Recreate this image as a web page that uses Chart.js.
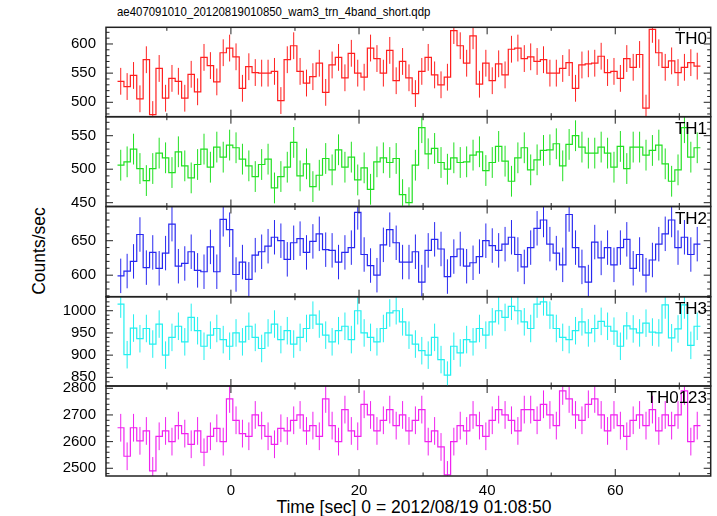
<!DOCTYPE html>
<html><head><meta charset="utf-8">
<script src="https://cdn.jsdelivr.net/npm/chart.js@4.4.1/dist/chart.umd.min.js"></script>
<style>
html,body{margin:0;padding:0;background:#fff;width:717px;height:516px;overflow:hidden;position:relative;font-family:"Liberation Sans",Arial,sans-serif;}
canvas{position:absolute;left:0;}
.t{position:absolute;white-space:nowrap;color:#000;line-height:1;}
</style></head><body>
<div class="t" style="left:117px;top:5px;font-size:13.5px;transform:scaleX(0.845);transform-origin:0 0;">ae407091010_20120819010850_wam3_trn_4band_short.qdp</div>
<div class="t" style="left:40px;top:251px;font-size:17.5px;transform:translate(-50%,-50%) rotate(-90deg);">Counts/sec</div>
<div class="t" style="left:414px;top:508px;font-size:17.5px;transform:translate(-50%,-50%);">Time [sec] 0 = 2012/08/19 01:08:50</div>
<script>
// ---- data ----
const TIME = [-17.2,-16.2,-15.2,-14.2,-13.2,-12.2,-11.2,-10.2,-9.2,-8.2,-7.2,-6.2,-5.2,-4.2,-3.2,-2.2,-1.2,-0.2,0.8,1.8,2.8,3.8,4.8,5.8,6.8,7.8,8.8,9.8,10.8,11.8,12.8,13.8,14.8,15.8,16.8,17.8,18.8,19.8,20.8,21.8,22.8,23.8,24.8,25.8,26.8,27.8,28.8,29.8,30.8,31.8,32.8,33.8,34.8,35.8,36.8,37.8,38.8,39.8,40.8,41.8,42.8,43.8,44.8,45.8,46.8,47.8,48.8,49.8,50.8,51.8,52.8,53.8,54.8,55.8,56.8,57.8,58.8,59.8,60.8,61.8,62.8,63.8,64.8,65.8,66.8,67.8,68.8,69.8,70.8,71.8,72.8];
const BIN_WIDTH = 1;
const TH0 = [536,527,546,506,573,479,558,507,541,536, 507,548,518,577,563,535,585,593,578,524, 561,551,550,550,553,503,573,597,553,533, 544,567,517,564,577,542,584,550,543,593, 575,550,589,537,570,542,515,553,577,547, 530,543,623,597,567,614,531,567,537,566, 547,591,593,575,578,570,573,550,550,558, 568,524,564,566,567,579,551,553,541,575, 560,582,490,625,585,560,571,551,560,568,562];
const TH1 = [506,511,530,501,483,501,524,517,495,526, 505,487,507,530,503,533,518,536,532,515, 505,489,507,515,472,489,503,540,490,508, 474,491,516,499,529,503,518,484,502,470, 511,517,510,516,462,450,506,562,523,531, 510,500,517,510,511,521,526,498,510,534, 512,482,517,532,499,514,528,529,538,505, 537,550,533,524,524,533,524,503,534,501, 533,533,521,528,536,508,482,499,562,518,532];
const TH2 = [599,606,620,659,611,633,610,632,674,613, 617,634,607,605,641,605,681,666,601,619, 594,629,634,642,655,650,623,647,653,633, 649,660,637,636,619,633,640,691,630,614, 600,644,666,647,619,619,634,590,636,652, 638,598,627,638,613,618,627,650,643,636, 645,655,630,612,640,668,680,645,632,615, 688,640,612,590,648,625,640,615,640,652, 610,630,600,622,645,660,680,640,655,630,645];
const TH3 = [1015,901,961,937,960,925,970,900,940,965, 930,985,955,920,945,960,935,920,950,930, 965,940,915,950,970,935,955,925,940,960, 990,970,945,930,955,965,935,1000,950,940, 930,960,995,1000,975,945,925,910,900,940, 890,855,920,905,935,930,960,945,975,1000, 985,1010,1000,975,960,1015,1020,990,960,940, 935,955,975,950,960,976,965,954,920,966, 959,950,972,952,950,1013,939,959,1013,922,965];
const TH0123 = [2652,2545,2652,2603,2640,2490,2620,2640,2600,2660, 2630,2590,2640,2560,2620,2650,2600,2760,2680,2630, 2620,2700,2660,2620,2590,2650,2640,2680,2700,2640, 2660,2620,2760,2660,2600,2720,2640,2620,2740,2700, 2640,2680,2720,2660,2700,2640,2680,2720,2600,2640, 2580,2475,2600,2660,2640,2700,2660,2620,2680,2720, 2700,2680,2640,2720,2720,2680,2740,2700,2660,2790, 2760,2700,2680,2740,2760,2700,2640,2700,2660,2620, 2680,2700,2660,2720,2640,2700,2660,2700,2790,2600,2660];
// typical 1-sigma error in each panel
const ERR_TH0 = 23, ERR_TH1 = 23, ERR_TH2 = 25, ERR_TH3 = 31, ERR_TH0123 = 52;
const PANEL_NAMES = ['TH0','TH1','TH2','TH3','TH0123'];
const X_TICKS = [0, 20, 40, 60];
const Y_TICKS = [[500,550,600],[450,500,550],[600,650],[850,900,950,1000],[2500,2600,2700,2800]];
const X_MAJOR = 20, X_MINOR = 10;

// ---- layout ----
const FRAME_LEFT = 106, FRAME_RIGHT = 710.7, W = 717, MARGIN = 40;
const TOPS = [27.3, 116.7, 206.5, 296.7, 386, 476];
const X_MIN = -19.5, X_MAX = 74.9;
const FONT = '"Liberation Sans", Arial, sans-serif';

const framePlugin = {
  id: 'qdpframe',
  afterDatasetsDraw(chart, args, o) {
    const {ctx, chartArea: a, scales} = chart;
    const xs = scales.x, ys = scales.y;
    ctx.save();
    ctx.strokeStyle = '#222';
    ctx.lineWidth = 1;
    ctx.beginPath();
    for (let v = Math.ceil(xs.min / o.xMinor) * o.xMinor; v <= xs.max + 1e-9; v += o.xMinor) {
      const p = xs.getPixelForValue(v);
      const len = Math.abs(v % o.xMajor) < 1e-6 ? 7 : 3.5;
      ctx.moveTo(p, a.top); ctx.lineTo(p, a.top + len);
      ctx.moveTo(p, a.bottom); ctx.lineTo(p, a.bottom - len);
    }
    for (let v = Math.ceil(ys.min / o.yMinor) * o.yMinor; v <= ys.max + 1e-9; v += o.yMinor) {
      const p = ys.getPixelForValue(v);
      const len = Math.abs(v % o.yMajor) < 1e-6 ? 7 : 3.5;
      ctx.moveTo(a.left, p); ctx.lineTo(a.left + len, p);
      ctx.moveTo(a.right, p); ctx.lineTo(a.right - len, p);
    }
    ctx.stroke();
    ctx.lineWidth = 1.5;
    ctx.strokeRect(a.left, a.top, a.right - a.left, a.bottom - a.top);
    ctx.restore();
  }
};

function panel(idx, values, err, color, ymin, ymax, yMajor, yMinor) {
  const top = TOPS[idx], bottom = TOPS[idx + 1];
  const isLast = idx === 4;
  const cTop = Math.floor(top) - MARGIN;
  const cBottom = Math.ceil(bottom) + (isLast ? 40 : MARGIN);
  const cH = cBottom - cTop;
  const canvas = document.createElement('canvas');
  canvas.width = W; canvas.height = cH;
  canvas.style.top = cTop + 'px';
  canvas.style.zIndex = String(10 - idx);
  document.body.appendChild(canvas);

  const step = [], bars = [];
  values.forEach((v, i) => {
    const t = TIME[i];
    step.push({x: t - BIN_WIDTH / 2, y: v}, {x: t + BIN_WIDTH / 2, y: v});
    bars.push({x: t, y: v - err}, {x: t, y: v + err}, {x: t, y: null});
  });

  const xAxis = {type: 'linear', min: X_MIN, max: X_MAX, display: isLast,
    grid: {display: false, drawTicks: false}, border: {display: false},
    afterBuildTicks: s => { s.ticks = X_TICKS.map(v => ({value: v})); },
    ticks: {padding: 6, color: '#000', font: {size: 15, family: FONT}, maxRotation: 0, autoSkip: false,
            callback: v => String(v)}};
  if (isLast) xAxis.afterFit = s => { s.height = cBottom - bottom; };

  new Chart(canvas, {
    type: 'line',
    data: {datasets: [
      {data: bars, borderColor: color, borderWidth: 1, pointRadius: 0, spanGaps: false, tension: 0},
      {data: step, borderColor: color, borderWidth: 1.2, pointRadius: 0, tension: 0}
    ]},
    options: {
      responsive: false, animation: false, devicePixelRatio: 1,
      layout: {padding: {left: 0, right: W - FRAME_RIGHT, top: top - cTop, bottom: isLast ? 0 : cBottom - bottom}},
      plugins: {legend: {display: false}, tooltip: {enabled: false},
        qdpframe: {xMajor: X_MAJOR, xMinor: X_MINOR, yMajor, yMinor}},
      scales: {
        x: xAxis,
        y: {type: 'linear', min: ymin, max: ymax,
            grid: {display: false, drawTicks: false}, border: {display: false},
            afterBuildTicks: s => { s.ticks = Y_TICKS[idx].map(v => ({value: v})); },
            ticks: {padding: 10, color: '#000', autoSkip: false,
                    font: {size: 15, family: FONT}, callback: v => String(v)},
            afterFit: s => { s.width = FRAME_LEFT; }}
      }
    },
    plugins: [framePlugin]
  });

  const lab = document.createElement('div');
  lab.className = 't';
  lab.textContent = PANEL_NAMES[idx];
  lab.style.right = (W - 707) + 'px';
  lab.style.top = (top + 3) + 'px';
  lab.style.fontSize = '17px';
  lab.style.zIndex = '20';
  document.body.appendChild(lab);
}

panel(0, TH0, ERR_TH0, '#ff2020', 475.3, 628.6, 50, 10);
panel(1, TH1, ERR_TH1, '#22e022', 444.3, 578.4, 50, 10);
panel(2, TH2, ERR_TH2, '#2828f0', 568.8, 699.6, 50, 10);
panel(3, TH3, ERR_TH3, '#22f0f0', 830.5, 1031.6, 50, 10);
panel(4, TH0123, ERR_TH0123, '#f022f0', 2471, 2808.6, 100, 20);
</script>
</body></html>
